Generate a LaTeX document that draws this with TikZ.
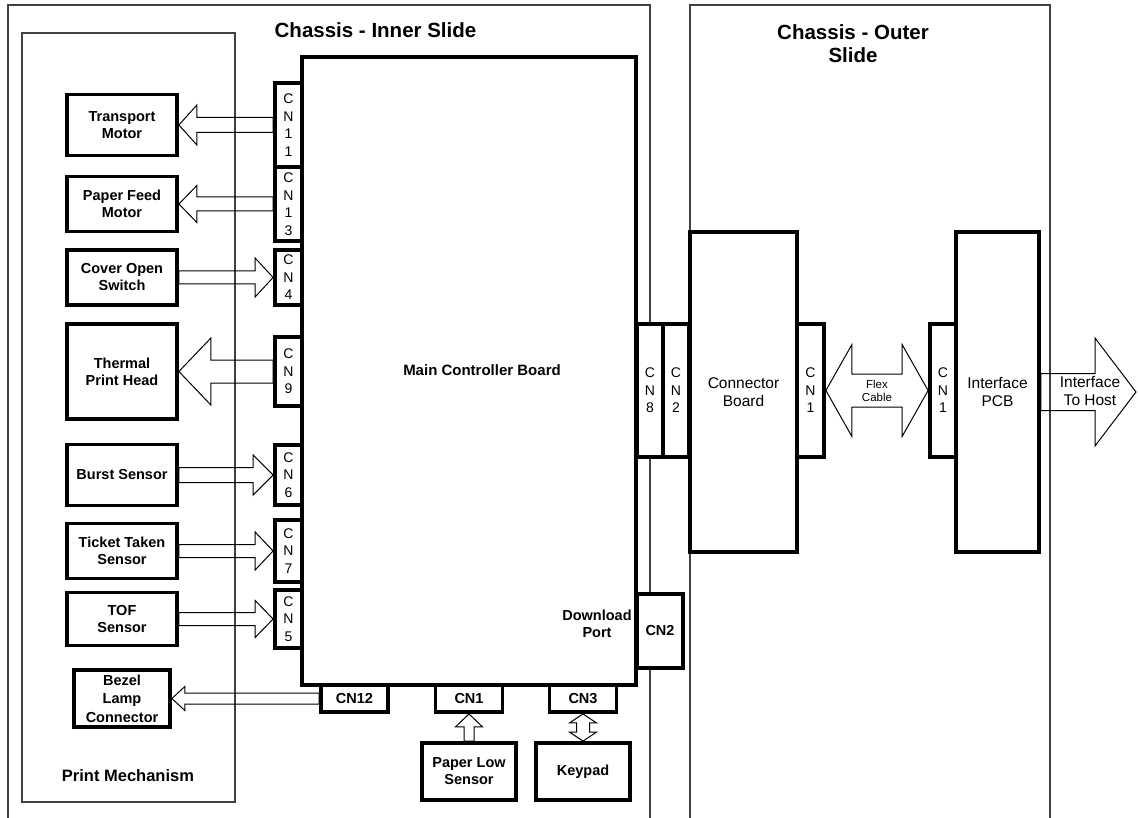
\documentclass[tikz,border=0pt]{standalone}
\usepackage{fontspec}
\setmainfont{Liberation Sans}
\usetikzlibrary{calc}

\newcommand{\devfont}{\fontsize{14.5}{17}\selectfont\bfseries}
\newcommand{\cnfont}{\fontsize{14}{17.5}\selectfont}
\newcommand{\ttlfont}{\fontsize{20.5}{23}\selectfont\bfseries}
\newcommand{\pmfont}{\fontsize{16.5}{19}\selectfont\bfseries}
\newcommand{\brdfont}{\fontsize{15.5}{18}\selectfont}
\newcommand{\flexfont}{\fontsize{11.5}{13}\selectfont}

\tikzset{
  frame/.style={draw=black!75, line width=1.2pt},
  box/.style={draw, line width=3.8pt, fill=white, inner sep=0pt, align=center},
  dev/.style={box, minimum width=110pt, font=\devfont},
  cnv/.style={box, minimum width=27pt, font=\cnfont},
  cnh/.style={box, minimum width=67pt, minimum height=27pt, font=\devfont},
  arrowline/.style={draw, line width=1pt, line join=miter},
  % block arrow: shaft half width / head half width / head length
  fat/.style args={#1/#2/#3}{arrowline, to path={
    ($(\tikztostart)!#1!90:(\tikztotarget)$)
    -- ($(\tikztotarget)!#3!(\tikztostart)!#1!-90:(\tikztostart)$)
    -- ($(\tikztotarget)!#3!(\tikztostart)!#2!-90:(\tikztostart)$)
    -- (\tikztotarget)
    -- ($(\tikztotarget)!#3!(\tikztostart)!#2!90:(\tikztostart)$)
    -- ($(\tikztotarget)!#3!(\tikztostart)!#1!90:(\tikztostart)$)
    -- ($(\tikztostart)!#1!-90:(\tikztotarget)$) -- cycle}},
  fatdbl/.style args={#1/#2/#3}{arrowline, to path={
    (\tikztostart)
    -- ($(\tikztostart)!#3!(\tikztotarget)!#2!90:(\tikztotarget)$)
    -- ($(\tikztostart)!#3!(\tikztotarget)!#1!90:(\tikztotarget)$)
    -- ($(\tikztotarget)!#3!(\tikztostart)!#1!-90:(\tikztostart)$)
    -- ($(\tikztotarget)!#3!(\tikztostart)!#2!-90:(\tikztostart)$)
    -- (\tikztotarget)
    -- ($(\tikztotarget)!#3!(\tikztostart)!#2!90:(\tikztostart)$)
    -- ($(\tikztotarget)!#3!(\tikztostart)!#1!90:(\tikztostart)$)
    -- ($(\tikztostart)!#3!(\tikztotarget)!#1!-90:(\tikztotarget)$)
    -- ($(\tikztostart)!#3!(\tikztotarget)!#2!-90:(\tikztotarget)$) -- cycle}},
}

\begin{document}
\begin{tikzpicture}[x=1pt, y=-1pt]
\useasboundingbox (0,0) rectangle (1138,818);

% Chassis frames
\draw[frame] (8,818) -- (8,5) -- (650,5) -- (650,818);
\draw[frame] (690,818) -- (690,5) -- (1050,5) -- (1050,818);
\draw[frame] (22,33) rectangle (235,802);

% Titles
\node[font=\ttlfont] (tinner) at (375.5,30) {Chassis - Inner Slide};
\node[font=\ttlfont, align=center] (touter) at (853,43.5) {Chassis - Outer\\Slide};
\node[font=\pmfont] (tpm) at (128,776) {Print Mechanism};

% Main controller board
\node[box, minimum width=334pt, minimum height=628pt] (mcb) at (469,371) {};
\node[font=\fontsize{15}{18}\selectfont\bfseries] (mcbl) at (482,370) {Main Controller Board};
\node[font=\devfont, align=center] (dlp) at (597,624) {Download\\Port};
\node[box, minimum width=46pt, minimum height=74pt, font=\devfont] (cndl) at (660,631) {CN2};

% Connectors, left side
\node[cnv, minimum height=84pt] (cn11) at (288.5,125) {C\\N\\1\\1};
\node[cnv, minimum height=74pt] (cn13) at (288.5,204) {C\\N\\1\\3};
\node[cnv, minimum height=55pt] (cn4) at (288.5,277.5) {C\\N\\4};
\node[cnv, minimum height=69pt] (cn9) at (288.5,371.5) {C\\N\\9};
\node[cnv, minimum height=60pt] (cn6) at (288.5,475) {C\\N\\6};
\node[cnv, minimum height=62pt] (cn7) at (288.5,551) {C\\N\\7};
\node[cnv, minimum height=58pt] (cn5) at (288.5,619) {C\\N\\5};

% Connectors, bottom
\node[cnh] (cn12) at (354.5,698.5) {CN12};
\node[cnh] (cn1b) at (469,698.5) {CN1};
\node[cnh] (cn3) at (583,698.5) {CN3};

% Devices
\node[dev, minimum height=61pt] (tm) at (122,125) {Transport\\Motor};
\node[dev, minimum height=55pt] (pfm) at (122,204) {Paper Feed\\Motor};
\node[dev, minimum height=55pt] (cos) at (122,277.5) {Cover Open\\Switch};
\node[dev, minimum height=95pt] (tph) at (122,371.5) {Thermal\\Print Head};
\node[dev, minimum height=61pt] (bs) at (122,475) {Burst Sensor};
\node[dev, minimum height=55pt] (tts) at (122,551) {Ticket Taken\\Sensor};
\node[dev, minimum height=53pt] (tof) at (122,619) {TOF\\Sensor};
\node[dev, minimum width=96pt, minimum height=57pt, font=\fontsize{14.5}{18.5}\selectfont\bfseries] (bezel) at (122,698.5) {Bezel\\Lamp\\Connector};
\node[dev, minimum width=94pt, minimum height=57pt] (pls) at (469,771.5) {Paper Low\\Sensor};
\node[dev, minimum width=94pt, minimum height=57pt] (kp) at (583,771.5) {Keypad};

% Outer slide boards
\node[cnv, minimum width=26pt, minimum height=133pt] (cn8) at (650,390.5) {C\\N\\8};
\node[cnv, minimum width=26pt, minimum height=133pt] (cn2) at (676,390.5) {C\\N\\2};
\node[box, minimum width=107pt, minimum height=320pt, font=\brdfont] (cb) at (743.5,392) {Connector\\Board};
\node[cnv, minimum height=133pt] (cnl) at (810.5,390.5) {C\\N\\1};
\node[cnv, minimum width=26pt, minimum height=133pt] (cnr) at (943,390.5) {C\\N\\1};
\node[box, minimum width=83pt, minimum height=320pt, font=\brdfont] (ipcb) at (997.5,392) {Interface\\PCB};
\coordinate (host) at (1136,392);

% Block arrows
\draw[fat=7.5pt/20pt/18pt] (cn11.west) to (tm.east);
\draw[fat=7pt/18.5pt/18pt] (cn13.west) to (pfm.east);
\draw[fat=6.5pt/19.5pt/18pt] (cos.east) to (cn4.west);
\draw[fat=11.5pt/33.5pt/32pt] (cn9.west) to (tph.east);
\draw[fat=7.5pt/20pt/20pt] (bs.east) to (cn6.west);
\draw[fat=6.5pt/19pt/18pt] (tts.east) to (cn7.west);
\draw[fat=6.5pt/18.5pt/18pt] (tof.east) to (cn5.west);
\draw[fat=5.5pt/12pt/13pt] (cn12.west) to (bezel.east);
\draw[fat=5pt/13.5pt/13pt] (pls.north) to (cn1b.south);
\draw[fatdbl=6.5pt/13.5pt/9pt] (kp.north) to (cn3.south);
\draw[fatdbl=16.5pt/46pt/26pt] (cnl.east) to (cnr.west);
\draw[fat=18.5pt/54pt/41pt] (ipcb.east) to (host);

% Arrow labels
\node[font=\flexfont, align=center] (flexl) at (877,390.5) {Flex\\Cable};
\node[font=\brdfont, align=center] (hostl) at (1090,391) {Interface\\To Host};

\end{tikzpicture}
\end{document}
